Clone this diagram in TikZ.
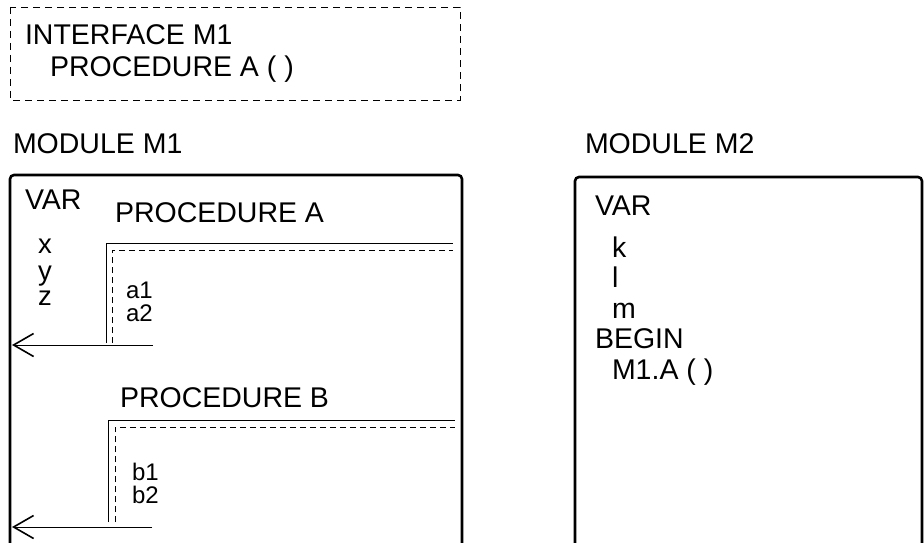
\documentclass[tikz,border=0pt]{standalone}
\usepackage{fontspec}
\setmainfont{Liberation Sans}
\usetikzlibrary{arrows.meta}
\tikzset{
  txt/.style={anchor=base west, inner sep=0pt, outer sep=0pt, font=\fontsize{28.5}{30}\selectfont},
  smalltxt/.style={txt, font=\fontsize{24}{26}\selectfont},
  vartxt/.style={txt, font=\fontsize{27.5}{28}\selectfont},
  modbox/.style={line width=2.6pt, rounded corners=4pt},
  procline/.style={line width=0.7pt},
  procdash/.style={line width=0.6pt, dash pattern=on 6pt off 4pt},
  ifdash/.style={line width=0.7pt, dash pattern=on 7pt off 5pt},
  retarrow/.style={line width=0.8pt, -{Straight Barb[length=20pt,width=23pt,line width=1.6pt]}},
}
\begin{document}
\begin{tikzpicture}[x=1pt,y=-1pt]
\useasboundingbox (0,0) rectangle (924,543);
\fill[white] (0,0) rectangle (924,543);

% interface
\draw[ifdash] (10,7) rectangle (460,100);
\node[txt] (ifc) at (25,45) {INTERFACE M1};
\node[txt] (ifp) at (50,77) {PROCEDURE A ( )};

% module labels
\node[txt] (m1lab) at (13,153) {MODULE M1};
\node[txt] (m2lab) at (585,153) {MODULE M2};

% module boxes
\draw[modbox] (10,545) -- (10,175) -- (462,175) -- (462,545);
\draw[modbox] (575,545) -- (575,177) -- (922,177) -- (922,545);

% M1 variables
\node[txt] (var1) at (25,209) {VAR};
\node[vartxt] (vx) at (38,253) {x};
\node[vartxt] (vy) at (38,280) {y};
\node[vartxt] (vz) at (38,305) {z};

% procedure A
\node[txt] (pa) at (115,222) {PROCEDURE A};
\draw[procline] (106,343) -- (106,243) -- (453,243);
\draw[procdash] (112,343) -- (112,250) -- (453,250);
\node[smalltxt] (a1) at (126,298) {a1};
\node[smalltxt] (a2) at (126,321) {a2};
\coordinate (ra) at (153,345);
\coordinate (la) at (12,345);
\draw[retarrow] (ra) -- (la);

% procedure B
\node[txt] (pb) at (120,407) {PROCEDURE B};
\draw[procline] (108,522) -- (108,420) -- (455,420);
\draw[procdash] (115,522) -- (115,427) -- (455,427);
\node[smalltxt] (b1) at (132,480) {b1};
\node[smalltxt] (b2) at (132,503) {b2};
\coordinate (rb) at (152,527);
\coordinate (lb) at (12,527);
\draw[retarrow] (rb) -- (lb);

% M2 contents
\node[txt] (var2) at (595,215) {VAR};
\node[txt] (vk) at (612,257) {k};
\node[txt] (vl) at (612,287) {l};
\node[txt] (vm) at (612,318) {m};
\node[txt] (beg) at (595,348) {BEGIN};
\node[txt] (call) at (612,379) {M1.A ( )};
\end{tikzpicture}
\end{document}
